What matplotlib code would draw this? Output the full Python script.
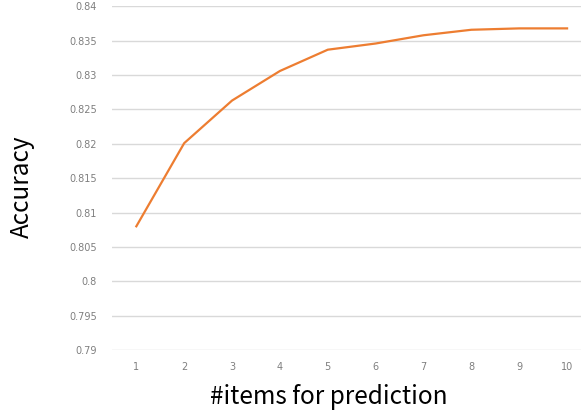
import matplotlib
matplotlib.use("Agg")
import matplotlib.pyplot as plt
import numpy as np

plt.rcParams['font.family'] = ['Noto Sans CJK JP', 'DejaVu Sans']

# number of items used for prediction vs accuracy
n_items = [1, 2, 3, 4, 5, 6, 7, 8, 9, 10]
accuracy = [0.8080, 0.8201, 0.8263, 0.8306, 0.8337, 0.8346, 0.8358, 0.8366, 0.8368, 0.8368]
y_ticks = [0.79, 0.795, 0.80, 0.805, 0.81, 0.815, 0.82, 0.825, 0.83, 0.835, 0.84]
y_tick_labels = ['0.79', '0.795', '0.8', '0.805', '0.81', '0.815', '0.82', '0.825', '0.83', '0.835', '0.84']

W, H = 581, 416
fig = plt.figure(figsize=(W / 100, H / 100), dpi=100)
# category axis runs a little past the right edge of the canvas
ax = fig.add_axes([112.4 / W, 1 - 350 / H, (591 - 112.4) / W, (350 - 6.4) / H])

ax.plot(n_items, accuracy, color='#ED7D31', linewidth=1.6, solid_joinstyle='miter')

ax.set_xlim(0.5, 10.5)
ax.set_ylim(0.79, 0.84)
ax.set_xticks(n_items)
ax.set_xticklabels([str(n) for n in n_items])
ax.set_yticks(y_ticks)
ax.set_yticklabels(y_tick_labels)
ax.yaxis.grid(True, color='#D9D9D9', linewidth=1.0)
ax.set_axisbelow(True)
for s in ax.spines.values():
    s.set_visible(False)
ax.tick_params(axis='both', length=0, colors='#7F7F7F', labelsize=7)
ax.tick_params(axis='y', pad=11)
ax.tick_params(axis='x', pad=9)
for lbl in ax.get_xticklabels() + ax.get_yticklabels():
    lbl.set_family('DejaVu Sans')

fig.text(22 / W, 1 - 187 / H, 'Accuracy', rotation=90, ha='center', va='center',
         fontsize=17.5, color='#000000')
fig.text(329 / W, 1 - 397 / H, '#items for prediction', ha='center', va='center',
         fontsize=17.5, color='#000000')

fig.savefig('out.png', dpi=100)
